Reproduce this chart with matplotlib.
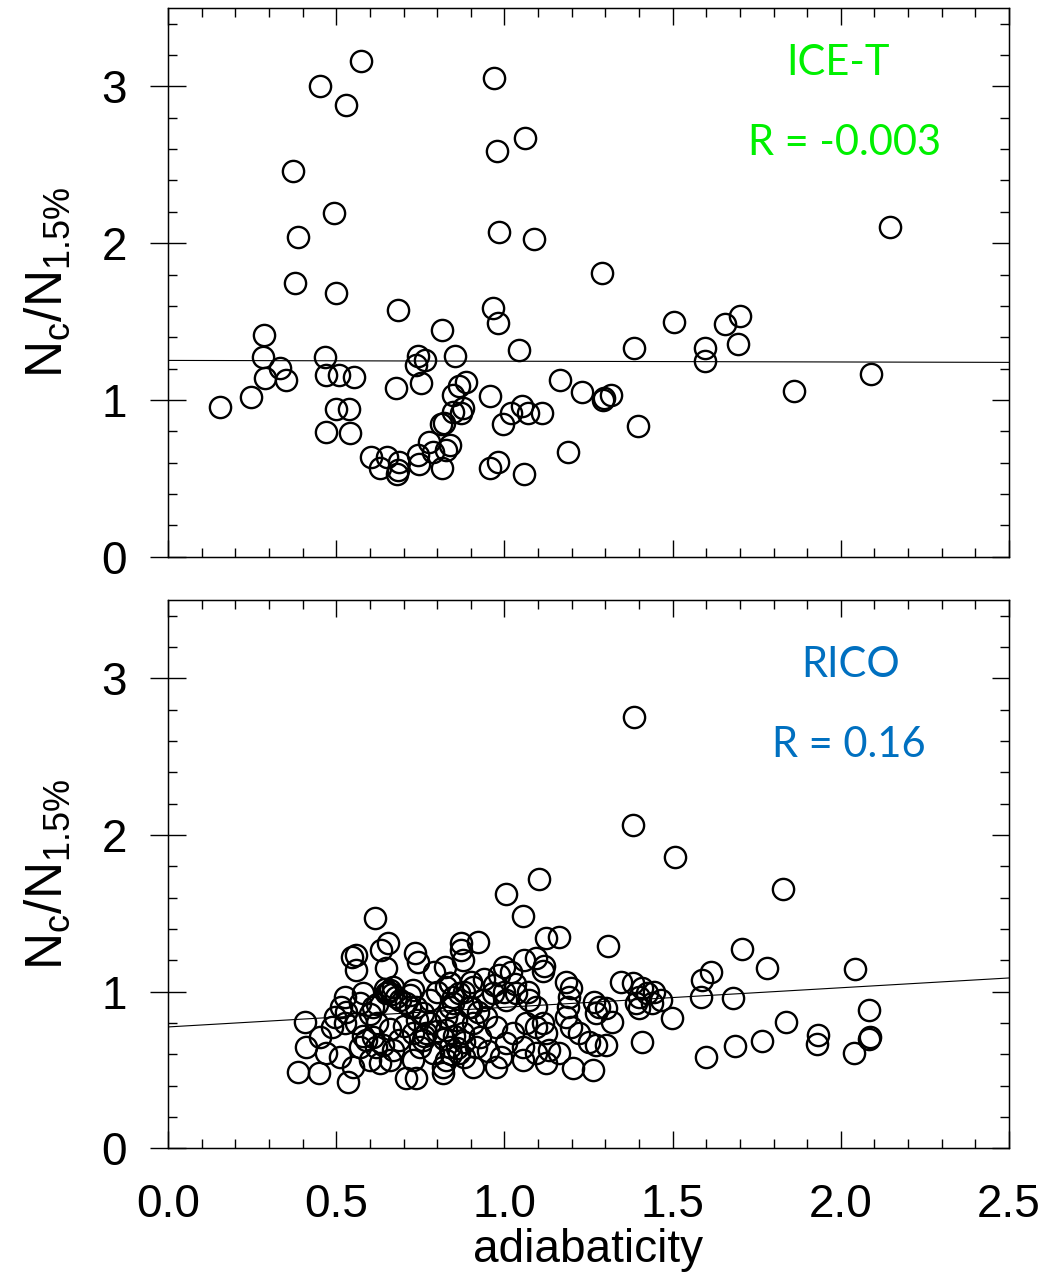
import matplotlib
matplotlib.use('Agg')
import matplotlib.pyplot as plt
import numpy as np

plt.rcParams['font.family'] = 'Liberation Sans'
plt.rcParams['mathtext.fontset'] = 'custom'
plt.rcParams['mathtext.rm'] = 'Liberation Sans'

# ICE-T points (adiabaticity, Nc/N1.5%)
ice_x = [0.575, 0.453, 0.528, 0.970, 1.061, 0.977, 0.372, 0.492, 0.386, 0.985,
         1.087, 0.377, 0.498, 0.683, 0.965, 0.980, 0.814, 1.043, 0.286, 0.282,
         0.332, 0.288, 0.352, 0.248, 0.154, 0.468, 0.471, 0.508, 0.552, 0.500,
         0.537, 0.471, 0.542, 0.677, 0.743, 0.763, 0.738, 0.752, 0.854, 0.886,
         0.866, 0.847, 0.877, 0.847, 0.871, 0.820, 0.811, 0.958, 1.020, 1.052,
         1.069, 1.112, 0.995, 1.165, 1.231, 1.188, 0.604, 0.629, 0.652, 0.686,
         0.683, 0.680, 0.743, 0.746, 0.777, 0.787, 0.837, 0.827, 0.815, 0.958,
         0.981, 1.059, 2.145, 1.290, 1.504, 1.656, 1.700, 1.694, 1.386, 1.597,
         1.595, 2.090, 1.861, 1.316, 1.297, 1.294, 1.396]
ice_y = [3.163, 3.000, 2.883, 3.053, 2.670, 2.591, 2.461, 2.195, 2.042, 2.070,
         2.025, 1.745, 1.685, 1.574, 1.585, 1.493, 1.447, 1.319, 1.415, 1.276,
         1.202, 1.138, 1.128, 1.021, 0.957, 1.276, 1.160, 1.160, 1.149, 0.941,
         0.941, 0.798, 0.791, 1.079, 1.281, 1.255, 1.223, 1.106, 1.281, 1.117,
         1.089, 1.032, 0.947, 0.925, 0.919, 0.851, 0.847, 1.028, 0.919, 0.962,
         0.915, 0.919, 0.847, 1.128, 1.053, 0.670, 0.638, 0.564, 0.638, 0.606,
         0.553, 0.528, 0.649, 0.590, 0.734, 0.670, 0.713, 0.681, 0.564, 0.564,
         0.606, 0.526, 2.106, 1.812, 1.496, 1.483, 1.538, 1.357, 1.330, 1.334,
         1.249, 1.164, 1.059, 1.032, 1.011, 1.000, 0.834]

# RICO points
rico_x = [1.386, 1.383, 1.507, 1.828,
          1.005, 1.102, 1.054, 1.124, 1.163, 1.309,
          0.871, 0.921, 0.871, 0.876, 1.059, 1.094, 1.119, 1.116, 1.000, 1.020, 0.985, 0.822,
          1.183, 1.198, 1.193, 1.188, 1.183, 1.198, 1.222, 1.252, 1.272, 1.302, 1.262, 1.203,
          1.346, 1.381, 1.410, 1.425, 1.445, 1.400, 1.391, 1.400, 1.440, 1.465, 1.499, 1.408,
          1.613, 1.588, 1.583, 1.598,
          1.282, 1.272, 1.302, 1.321, 1.267,
          0.837, 0.866, 0.906, 0.847, 0.896, 0.936, 0.965, 1.005, 1.035, 1.074, 1.094,
          0.856, 0.906, 0.945, 0.827, 0.876, 0.926, 0.975, 1.025, 1.064, 1.094, 1.114,
          1.124, 1.005, 1.054, 1.094, 1.133, 0.916, 0.866, 0.827, 0.906, 0.975, 1.054,
          1.124, 1.163, 0.817,
          1.707, 1.781, 2.041, 1.678, 2.083, 1.838, 1.933, 1.928, 2.088, 2.083, 2.039,
          1.767, 1.684,
          0.616, 0.654, 0.634, 0.560, 0.548, 0.733, 0.743, 0.560, 0.649, 0.792,
          0.580, 0.525, 0.515, 0.530, 0.496, 0.525, 0.486, 0.570, 0.609, 0.659,
          0.669, 0.649, 0.679, 0.728, 0.708, 0.738, 0.758, 0.827, 0.837, 0.847,
          0.837, 0.827, 0.408, 0.451, 0.411, 0.471, 0.510, 0.550, 0.570, 0.590,
          0.609, 0.619, 0.599, 0.629, 0.659, 0.669, 0.688, 0.728, 0.758, 0.768,
          0.748, 0.787, 0.817, 0.728, 0.387, 0.449, 0.535, 0.708, 0.738, 0.837,
          0.655, 0.665, 0.645, 0.690, 0.720, 0.600, 0.620, 0.660, 0.700, 0.740,
          0.780, 0.800, 0.820, 0.850, 0.880, 0.860, 0.900, 0.920, 0.880, 0.900,
          0.940, 0.970, 1.000, 1.030, 1.070, 0.950, 0.990, 0.880, 0.840, 0.760,
          0.640, 0.580, 0.560, 0.620, 0.780, 0.800, 0.720]
rico_y = [2.753, 2.064, 1.860, 1.655,
          1.621, 1.717, 1.485, 1.340, 1.351, 1.291,
          1.308, 1.319, 1.266, 1.202, 1.202, 1.212, 1.163, 1.134, 1.159, 1.127, 1.106, 1.159,
          1.063, 1.021, 0.968, 0.904, 0.840, 0.776, 0.734, 0.680, 0.659, 0.659, 0.500, 0.510,
          1.063, 1.053, 1.021, 0.989, 1.000, 0.968, 0.925, 0.893, 0.925, 0.946, 0.829, 0.680,
          1.127, 1.074, 0.968, 0.585,
          0.904, 0.861, 0.893, 0.808, 0.936,
          1.053, 0.989, 1.031, 0.925, 0.904, 0.946, 0.989, 0.946, 0.989, 0.946, 0.904,
          0.819, 0.797, 0.840, 0.755, 0.734, 0.712, 0.776, 0.734, 0.797, 0.776, 0.797,
          0.734, 0.670, 0.648, 0.606, 0.627, 0.648, 0.606, 0.563, 0.521, 0.521, 0.563,
          0.542, 0.606, 0.478,
          1.270, 1.153, 1.142, 0.961, 0.883, 0.808, 0.723, 0.663, 0.712, 0.700, 0.610,
          0.685, 0.653,
          1.468, 1.308, 1.266, 1.234, 1.219, 1.244, 1.191, 1.138, 1.149, 1.127,
          0.989, 0.968, 0.904, 0.872, 0.840, 0.797, 0.776, 0.925, 0.904, 1.010,
          1.031, 0.989, 0.968, 1.010, 0.925, 0.904, 0.861, 1.031, 1.053, 0.968,
          0.904, 0.840, 0.808, 0.712, 0.649, 0.606, 0.585, 0.521, 0.649, 0.691,
          0.712, 0.649, 0.563, 0.542, 0.563, 0.627, 0.691, 0.734, 0.691, 0.734,
          0.649, 0.606, 0.521, 0.563, 0.489, 0.478, 0.425, 0.446, 0.446, 0.649,
          1.000, 0.985, 1.020, 0.950, 0.900, 0.860, 0.800, 0.760, 0.780, 0.820,
          0.800, 0.750, 0.700, 0.720, 0.680, 0.640, 0.900, 0.870, 1.000, 1.060,
          1.080, 1.040, 1.000, 1.050, 1.000, 0.620, 0.580, 0.580, 0.600, 0.720,
          0.660, 0.720, 0.800, 0.920, 0.950, 1.000, 0.980]

# linear fits (intercept, slope)
ice_fit = (1.252, -0.005)
rico_fit = (0.775, 0.125)

panels = [
    (ice_x, ice_y, ice_fit, 'ICE-T', 'R = -0.003', '#00F000',
     (0.797, 0.878), (0.805, 0.732)),
    (rico_x, rico_y, rico_fit, 'RICO', 'R = 0.16', '#0070C0',
     (0.812, 0.859), (0.809, 0.714)),
]

fig = plt.figure(figsize=(10.41, 12.75), dpi=100)
ax_top = fig.add_axes([0.1614, 0.5634, 0.8079, 0.4303])
ax_bot = fig.add_axes([0.1614, 0.0993, 0.8079, 0.4302])

for ax, (xs, ys, fit, name, rtext, col, pos1, pos2) in zip([ax_top, ax_bot], panels):
    fx = np.array([0.0, 2.5])
    ax.plot(fx, fit[0] + fit[1] * fx, color='black', lw=0.8)
    ax.plot(xs, ys, 'o', mfc='none', mec='black', ms=15.3, mew=1.7, ls='none')
    ax.set_xlim(0, 2.5)
    ax.set_ylim(0, 3.5)
    ax.set_xticks(np.arange(0, 2.51, 0.5))
    ax.set_xticks(np.arange(0, 2.51, 0.1), minor=True)
    ax.set_yticks([0, 1, 2, 3])
    ax.set_yticks(np.arange(0, 3.51, 0.2), minor=True)
    ax.set_yticklabels(['0', '1', '2', '3'])
    for s in ax.spines.values():
        s.set_linewidth(1.0)
    ax.tick_params(axis='x', which='both', direction='in', top=True, width=1.0,
                   labelsize=33, pad=25)
    ax.tick_params(axis='x', which='major', length=12.5)
    ax.tick_params(axis='x', which='minor', length=6.2)
    ax.tick_params(axis='y', which='major', direction='inout', length=26, width=1.0,
                   labelsize=33, pad=16.5)
    ax.tick_params(axis='y', which='minor', direction='in', length=6.2, width=1.0)
    # right-hand ticks point inward only
    ax_r = ax.twinx()
    ax_r.set_ylim(0, 3.5)
    ax_r.set_yticks([0, 1, 2, 3])
    ax_r.set_yticks(np.arange(0, 3.51, 0.2), minor=True)
    ax_r.tick_params(axis='y', which='both', direction='in', width=1.0, labelright=False)
    ax_r.tick_params(axis='y', which='major', length=12.5)
    ax_r.tick_params(axis='y', which='minor', length=6.2)
    ax.set_ylabel(r'$\mathregular{N_c/N_{1.5\%}}$', fontsize=37)
    ax.yaxis.set_label_coords(-0.114, 0.5)
    ax.text(pos1[0], pos1[1], name, color=col, fontsize=30, family='Lato',
            ha='center', va='baseline', transform=ax.transAxes)
    ax.text(pos2[0], pos2[1], rtext, color=col, fontsize=30, family='Lato',
            ha='center', va='baseline', transform=ax.transAxes)

ax_top.tick_params(axis='x', labelbottom=False)
ax_bot.set_xticklabels(['0.0', '0.5', '1.0', '1.5', '2.0', '2.5'])
ax_bot.set_xlabel('adiabaticity', fontsize=33)
ax_bot.xaxis.set_label_coords(0.5, -0.145)

fig.savefig('out.png', dpi=100)
